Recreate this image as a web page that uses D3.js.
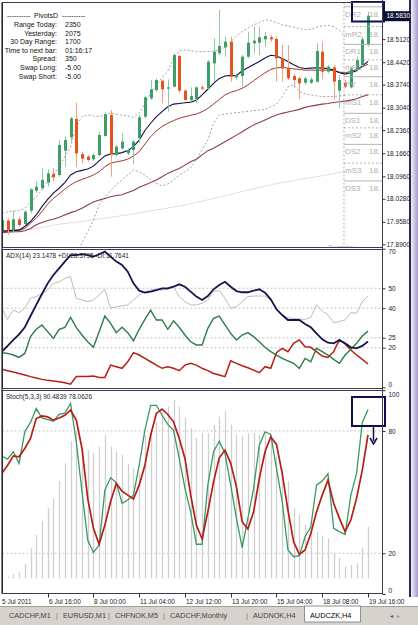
<!DOCTYPE html>
<html><head><meta charset="utf-8">
<script src="https://cdn.jsdelivr.net/npm/d3@7"></script>
<style>
body{margin:0;background:#fff;}
svg{display:block;font-family:"Liberation Sans",Arial,sans-serif;}
</style></head>
<body><svg id="c" width="418" height="625"></svg>
<script>
// ---------------- DATA ----------------
const openP  = [17.9334,17.9617,17.9334,17.9657,17.9516,17.9920,18.0526,18.0597,18.0769,18.1031,18.1001,18.1738,18.2143,18.2698,18.1637,18.1557,18.1476,18.1607,18.2183,18.2819,18.1607,18.1809,18.1658,18.1759,18.2112,18.2769,18.3325,18.3577,18.3860,18.3618,18.3678,18.4608,18.3557,18.3274,18.3294,18.3658,18.3628,18.4385,18.4689,18.4870,18.5042,18.3961,18.4001,18.4587,18.4992,18.5012,18.5113,18.5174,18.5123,18.4537,18.4234,18.4001,18.3931,18.3799,18.3799,18.3830,18.4739,18.4133,18.4264,18.3557,18.3799,18.3658,18.4183,18.4335,18.4941];
const highP  = [17.9839,17.9688,17.9920,17.9738,17.9940,18.0597,18.0799,18.1203,18.1173,18.1203,18.2062,18.2163,18.2769,18.3193,18.1708,18.1607,18.1658,18.2314,18.2890,18.2971,18.1910,18.2264,18.1809,18.2062,18.2819,18.3395,18.3880,18.3931,18.3900,18.3900,18.4689,18.4638,18.3597,18.3658,18.3678,18.3729,18.4486,18.5143,18.6002,18.5194,18.5194,18.4082,18.4638,18.5345,18.5497,18.5497,18.5345,18.5244,18.5194,18.4941,18.4941,18.4062,18.3981,18.3981,18.3961,18.4992,18.5042,18.4335,18.4335,18.4032,18.3880,18.4284,18.4587,18.5194,18.5951];
const lowP   = [17.9182,17.9182,17.9233,17.9435,17.9485,17.9839,18.0445,18.0546,18.0647,18.0799,18.0950,18.1254,18.2011,18.1254,18.1355,18.1405,18.1435,18.1557,18.2163,18.0950,18.1557,18.1759,18.1607,18.1334,18.1961,18.2718,18.3274,18.3527,18.3173,18.2921,18.3658,18.3476,18.3254,18.3224,18.3173,18.3577,18.3597,18.3830,18.4638,18.4587,18.3830,18.3880,18.3678,18.4537,18.4689,18.4638,18.4891,18.5042,18.3830,18.3830,18.3880,18.3658,18.3294,18.3729,18.3759,18.3799,18.3900,18.4082,18.3274,18.3022,18.3628,18.3628,18.4133,18.4284,18.4891];
const closeP = [17.9637,17.9334,17.9657,17.9485,17.9890,18.0567,18.0647,18.0849,18.1052,18.0930,18.1910,18.2062,18.2718,18.1658,18.1496,18.1456,18.1607,18.2213,18.2840,18.1637,18.1860,18.2011,18.1759,18.2011,18.2749,18.3355,18.3597,18.3880,18.3597,18.3658,18.4638,18.3557,18.3274,18.3395,18.3658,18.3618,18.4436,18.4739,18.4911,18.5042,18.3981,18.4032,18.4587,18.5012,18.5073,18.5174,18.5214,18.5113,18.4537,18.4234,18.3931,18.3880,18.3779,18.3931,18.3900,18.4759,18.4133,18.4284,18.3830,18.3880,18.3678,18.4234,18.4486,18.5113,18.5830];

const maFast = [17.931,17.931,17.933,17.933,17.944,17.959,17.979,18.004,18.026,18.045,18.060,18.077,18.100,18.110,18.114,18.118,18.127,18.143,18.158,18.164,18.165,18.168,18.174,18.186,18.206,18.235,18.257,18.277,18.292,18.307,18.315,18.317,18.319,18.321,18.327,18.343,18.360,18.378,18.393,18.400,18.402,18.401,18.416,18.425,18.435,18.444,18.455,18.463,18.461,18.453,18.444,18.434,18.426,18.423,18.424,18.425,18.424,18.423,18.418,18.410,18.406,18.410,18.416,18.431,18.444];
const maMid = [17.928,17.929,17.931,17.933,17.938,17.954,17.969,17.989,18.012,18.029,18.043,18.057,18.070,18.080,18.087,18.093,18.100,18.110,18.125,18.136,18.140,18.143,18.148,18.158,18.171,18.194,18.216,18.234,18.247,18.257,18.265,18.272,18.277,18.281,18.285,18.292,18.302,18.315,18.329,18.343,18.351,18.356,18.363,18.373,18.386,18.398,18.410,18.420,18.425,18.426,18.424,18.422,18.420,18.418,18.418,18.418,18.418,18.418,18.416,18.412,18.410,18.414,18.420,18.428,18.436];
const maSlow = [17.926,17.927,17.928,17.928,17.931,17.938,17.949,17.956,17.962,17.966,17.972,17.979,17.986,17.992,17.999,18.009,18.018,18.024,18.029,18.034,18.038,18.040,18.047,18.053,18.063,18.070,18.077,18.085,18.095,18.105,18.113,18.120,18.130,18.140,18.148,18.161,18.174,18.181,18.191,18.201,18.211,18.221,18.231,18.242,18.252,18.259,18.267,18.275,18.282,18.287,18.291,18.295,18.299,18.305,18.309,18.312,18.315,18.317,18.320,18.322,18.324,18.327,18.331,18.338,18.343];
const maVerySlow = [17.923,17.926,17.928,17.931,17.933,17.935,17.938,17.941,17.945,17.948,17.951,17.953,17.955,17.957,17.959,17.962,17.964,17.967,17.969,17.972,17.974,17.977,17.979,17.982,17.985,17.988,17.991,17.994,17.997,18.000,18.003,18.006,18.009,18.013,18.017,18.021,18.025,18.029,18.033,18.037,18.041,18.046,18.050,18.054,18.058,18.062,18.066,18.070,18.074,18.077,18.080,18.083,18.086,18.089,18.092,18.095,18.098,18.101,18.104,18.107,18.110];
const bandUpper = [17.984,17.988,17.991,17.992,17.999,18.019,18.034,18.055,18.080,18.100,18.125,18.156,18.186,18.247,18.277,18.282,18.279,18.277,18.282,18.287,18.285,18.281,18.279,18.275,18.287,18.317,18.348,18.373,18.396,18.416,18.454,18.477,18.479,18.477,18.474,18.474,18.474,18.476,18.479,18.487,18.504,18.521,18.535,18.545,18.555,18.562,18.570,18.568,18.562,18.555,18.552,18.548,18.544,18.540,18.542,18.548,18.552,18.554,18.550,18.538,18.519];
const bandLowerStart = 13;
const bandLower = [17.853,17.895,17.928,17.964,18.009,18.032,18.053,18.070,18.085,18.100,18.115,18.110,18.100,18.087,18.075,18.067,18.073,18.085,18.100,18.110,18.122,18.146,18.176,18.206,18.257,18.282,18.285,18.287,18.289,18.291,18.293,18.295,18.297,18.299,18.307,18.315,18.338,18.368,18.373,18.353,18.346,18.343,18.340,18.338,18.338,18.338,18.340,18.343];

const pivotNames  = ["DR2","mR2","DR1","mR1","PV","mS1","DS1","mS2","DS2","mS3","DS3"];
const pivotLevels = [18.610,18.550,18.496,18.449,18.398,18.343,18.287,18.243,18.193,18.136,18.082];
const pivotStartBar = 59.8;

const priceTicks = [18.5830,18.5120,18.4420,18.3740,18.3040,18.2360,18.1660,18.0960,18.0280,17.9580,17.8900];

const infoLabels = ["Range Today:","Yesterday:","30 Day Range:","Time to next bar:","Spread:","Swap Long:","Swap Short:"];
const infoValues = ["2350","2075","1700","01:16:17","350","-5.00","-5.00"];

const adxMain = [18.0,20.9,23.9,26.7,30.3,36.0,41.6,47.1,52.5,56.7,60.1,63.5,66.8,66.8,67.3,66.8,66.0,67.2,68.5,66.0,63.5,61.8,58.4,52.5,48.8,47.8,48.3,49.1,50.0,50.0,50.8,52.0,50.8,48.3,45.8,44.1,46.1,49.5,51.7,53.3,50.8,48.6,48.0,48.0,48.8,49.5,47.8,44.4,39.4,36.5,34.0,34.0,34.0,32.0,30.3,27.2,24.2,22.5,22.2,23.9,22.2,20.2,19.7,20.9,23.15];
const plusDI = [17.5,17.1,16.3,15.1,17.1,25.6,29.3,31.5,28.1,24.7,29.3,30.3,35.3,30.3,26.4,23.0,20.2,28.1,36.0,32.3,27.6,30.3,27.6,23.5,29.3,34.3,39.0,34.0,34.0,29.3,33.6,30.3,26.4,23.0,21.4,21.4,29.8,34.8,36.0,31.5,27.2,23.9,26.4,27.6,25.6,23.0,20.2,18.0,16.3,14.6,13.4,12.1,9.6,14.6,12.9,19.7,18.0,16.3,14.1,12.1,16.3,19.2,22.2,25.9,28.38];
const minusDI = [9.1,8.4,7.7,7.0,6.2,5.4,4.7,4.0,3.5,3.2,2.8,2.3,1.6,5.4,5.4,5.4,5.7,5.0,5.0,11.2,10.4,9.6,12.9,17.5,16.3,14.6,12.9,11.2,9.6,10.4,9.6,8.4,11.2,12.1,11.2,9.6,8.4,7.0,6.2,5.4,13.4,12.1,10.9,9.9,8.7,7.4,10.4,9.6,17.5,19.7,18.0,22.2,23.9,20.5,20.2,18.0,15.8,15.1,18.0,23.9,21.9,18.8,16.3,14.1,11.76];
const adxGray = [39.9,34.3,39.0,37.7,39.9,45.0,45.8,47.5,49.1,52.5,53.3,55.0,55.9,45.0,44.1,43.2,44.1,46.6,49.5,39.9,40.7,41.1,41.6,44.1,46.6,48.3,49.1,49.5,49.1,49.5,50.8,45.8,43.2,41.6,41.6,42.4,44.1,48.6,48.8,45.0,39.9,40.7,43.2,45.8,46.1,46.1,46.1,44.1,39.9,36.5,35.2,34.8,34.5,34.3,35.3,41.6,38.5,36.5,32.7,33.2,34.0,37.7,37.4,43.2,46.1];
const adxTicks = [70,50,40,25,20,0];
const adxGrid = [50,40,25,20];

const stochMain = [67.6,66.2,69.8,64.1,79.6,84.2,91.0,86.4,85.6,84.8,88.1,88.7,93.5,74.7,50.2,26.5,20.4,24.0,51.0,57.0,54.7,44.5,46.1,48.5,63.2,80.4,92.6,92.6,87.7,83.2,80.4,66.5,51.8,40.3,24.4,24.4,53.4,69.8,75.0,69.0,53.4,37.1,22.7,37.1,51.8,73.0,79.6,78.3,61.6,45.3,21.6,18.3,18.8,28.1,33.0,53.4,55.4,59.0,32.2,30.6,29.2,48.5,59.1,84.2,90.48];
const stochSignal = [59.2,63.2,67.8,67.3,71.4,76.3,86.1,87.4,86.9,85.3,86.4,87.7,90.2,85.3,71.4,46.9,32.2,24.4,33.8,45.3,54.2,50.5,48.5,46.6,53.4,63.2,77.9,88.6,90.7,88.1,84.5,76.3,66.5,48.5,33.8,27.0,40.3,55.0,66.8,70.6,64.1,52.6,35.5,31.9,40.3,56.7,69.8,77.1,73.4,59.2,41.2,25.6,19.4,21.6,29.7,40.3,48.5,55.9,44.5,37.1,30.6,36.3,46.9,60.8,78.06];
const stochHist = [2,0.9,2.2,3.2,7.7,16.2,23.4,31.0,38.2,43.2,52.6,62.2,74.2,79.3,69.4,69.4,67.6,71.2,77.5,71.2,68.5,66.7,61.8,59.5,56.8,77.5,79.3,84.7,90.1,92.8,96.4,92.8,86.8,81.1,75.7,78.4,78.4,82.9,87.4,90.5,83.2,77.5,76.6,78.4,78.4,77.5,78.4,77.5,65.8,59.5,52.3,37.8,34.2,28.8,27.0,25.2,23.1,21.6,13.5,10.8,6.3,7.2,8.1,16.2,27.9];
const stochTicks = [100,80,20,0];
const stochGrid = [80,20];

const timeLabels = ["5 Jul 2011","6 Jul 16:00","8 Jul 00:00","11 Jul 04:00","12 Jul 12:00","13 Jul 20:00","15 Jul 04:00","18 Jul 08:00","19 Jul 16:00"];
const timeTickBars = [0,8,16,24,32,40,48,56,64];
const tabs = ["CADCHF,M1","EURUSD,M1","CHFNOK,M5","CADCHF,Monthly","AUDNOK,H4","AUDCZK,H4"];

// ---------------- LAYOUT ----------------
const svg = d3.select("#c");
const L = 2.5, R = 382.5;
const P1 = {t:2.5, b:247.5}, P2 = {t:249.5, b:388.5}, P3 = {t:390.5, b:593.5};

const x = d3.scaleLinear().domain([0,64]).range([1.9,368]);
const yP = d3.scaleLinear().domain([17.89,18.583]).range([244.3,15.7]);
const yA = d3.scaleLinear().domain([0,70]).range([387.3,248.7]);
const yS = d3.scaleLinear().domain([0,100]).range([594,390.2]);
const yH = d3.scaleLinear().domain([0,100]).range([578.3,393.3]);

const defs = svg.append("defs");
[["c1",P1],["c2",P2],["c3",P3]].forEach(([id,p])=>{
  defs.append("clipPath").attr("id",id).append("rect").attr("x",L).attr("y",p.t).attr("width",R-L).attr("height",p.b-p.t);
});

// right side strip
svg.append("rect").attr("x",409).attr("y",0).attr("width",2).attr("height",597).attr("fill","#2c2850");
const grad = defs.append("linearGradient").attr("id","sg").attr("x1",0).attr("x2",1);
grad.append("stop").attr("offset","0").attr("stop-color","#f2f0f8");
grad.append("stop").attr("offset","1").attr("stop-color","#a898cc");
svg.append("rect").attr("x",411).attr("y",0).attr("width",7).attr("height",597).attr("fill","url(#sg)");

// ---------------- PRICE PANEL ----------------
const g1 = svg.append("g").attr("clip-path","url(#c1)");
const lineP = (start)=> d3.line().x((d,i)=>x(i+start)).y(d=>yP(d));

g1.append("path").attr("d",lineP(0)(maVerySlow)).attr("fill","none").attr("stroke","#dedede").attr("stroke-width",1);
g1.append("path").attr("d",lineP(0)(bandUpper)).attr("fill","none").attr("stroke","#8a8a8a").attr("stroke-width",0.8).attr("stroke-dasharray","2,2");
g1.append("path").attr("d",lineP(bandLowerStart)(bandLower)).attr("fill","none").attr("stroke","#8a8a8a").attr("stroke-width",0.8).attr("stroke-dasharray","2,2");
g1.append("path").attr("d",lineP(0)(maSlow)).attr("fill","none").attr("stroke","#8e3c46").attr("stroke-width",1.1);
g1.append("path").attr("d",lineP(0)(maMid)).attr("fill","none").attr("stroke","#9a3a2e").attr("stroke-width",1);
g1.append("path").attr("d",lineP(0)(maFast)).attr("fill","none").attr("stroke","#101048").attr("stroke-width",1.1);

// candles
const bull = "#3e9e68", bear = "#e4541c";
const cg = g1.append("g");
openP.forEach((o,i)=>{
  const c = closeP[i], up = c >= o;
  const cx = Math.round(x(i)) + 0.5;
  cg.append("line").attr("x1",cx).attr("x2",cx).attr("y1",yP(highP[i])).attr("y2",yP(lowP[i]))
    .attr("stroke", up ? "#8fc9a4" : "#eea27e").attr("stroke-width",1);
  const yt = yP(Math.max(o,c)), yb = yP(Math.min(o,c));
  cg.append("rect").attr("x",cx-1.5).attr("y",yt).attr("width",3).attr("height",Math.max(1,yb-yt))
    .attr("fill", up ? bull : bear);
});

// pivot area
const px = x(pivotStartBar);
g1.append("line").attr("x1",px).attr("x2",px).attr("y1",P1.t).attr("y2",P1.b).attr("stroke","#999").attr("stroke-dasharray","2,2").attr("stroke-width",0.8);
pivotLevels.forEach((lv,i)=>{
  const yy = yP(lv);
  const isD = pivotNames[i][0] !== "m";
  g1.append("line").attr("x1",px).attr("x2",R).attr("y1",yy).attr("y2",yy)
    .attr("stroke","#b4b4b4").attr("stroke-width",1).attr("stroke-dasharray", isD ? null : "2,2");
  g1.append("text").attr("x",px+1).attr("y",yy+10).attr("font-size",8).attr("fill","#b0b0b0").text(pivotNames[i]);
  g1.append("text").attr("x",px+25).attr("y",yy+10).attr("font-size",8).attr("fill","#b0b0b0").text("18.");
});
g1.append("text").attr("x",px-16).attr("y",P1.b+2).attr("font-size",7.5).attr("fill","#b8b8b8").text("Tuesday");

// info text
const info = svg.append("g").attr("font-size",7).attr("fill","#111");
info.append("text").attr("x",7).attr("y",18).text("----------");
info.append("text").attr("x",34).attr("y",18).text("PivotsD");
info.append("text").attr("x",62).attr("y",18).text("----------");
infoLabels.forEach((t,i)=>{
  info.append("text").attr("x",57).attr("y",27+i*8.6).attr("text-anchor","end").text(t);
  info.append("text").attr("x",65).attr("y",27+i*8.6).text(infoValues[i]);
});

// annotation rect top
svg.append("rect").attr("x",352).attr("y",2).attr("width",32).attr("height",19.5).attr("fill","none").attr("stroke","#0e0e4e").attr("stroke-width",2);

// ---------------- ADX PANEL ----------------
const g2 = svg.append("g").attr("clip-path","url(#c2)");
adxGrid.forEach(v=>g2.append("line").attr("x1",L).attr("x2",R).attr("y1",yA(v)).attr("y2",yA(v)).attr("stroke","#b8b8b8").attr("stroke-dasharray","2,2").attr("stroke-width",0.8));
const lineA = d3.line().x((d,i)=>x(i)).y(d=>yA(d));
g2.append("path").attr("d",lineA(adxGray)).attr("fill","none").attr("stroke","#b4b4b4").attr("stroke-width",0.9);
g2.append("path").attr("d",lineA(minusDI)).attr("fill","none").attr("stroke","#b81e16").attr("stroke-width",1.5);
g2.append("path").attr("d",lineA(plusDI)).attr("fill","none").attr("stroke","#2e7a4c").attr("stroke-width",1.4);
g2.append("path").attr("d",lineA(adxMain)).attr("fill","none").attr("stroke","#14144e").attr("stroke-width",1.8);
svg.append("text").attr("x",6).attr("y",257.5).attr("font-size",6.5).attr("fill","#1a1a2a").text("ADX(14) 23.1478 +DI:28.3795 -DI:11.7641");

// ---------------- STOCH PANEL ----------------
const g3 = svg.append("g").attr("clip-path","url(#c3)");
stochGrid.forEach(v=>g3.append("line").attr("x1",L).attr("x2",R).attr("y1",yS(v)).attr("y2",yS(v)).attr("stroke","#b8b8b8").attr("stroke-dasharray","2,2").attr("stroke-width",0.8));
stochHist.forEach((v,i)=>{
  const cx = Math.round(x(i))+0.5;
  g3.append("line").attr("x1",cx).attr("x2",cx).attr("y1",yH(0)).attr("y2",yH(v)).attr("stroke","#cfcfcf").attr("stroke-width",1.3);
});
const lineS = d3.line().x((d,i)=>x(i)).y(d=>yS(d));
g3.append("path").attr("d",lineS(stochMain)).attr("fill","none").attr("stroke","#3a9862").attr("stroke-width",1.3);
g3.append("path").attr("d",lineS(stochSignal)).attr("fill","none").attr("stroke","#b81e16").attr("stroke-width",1.7);
svg.append("text").attr("x",6).attr("y",398.8).attr("font-size",6.5).attr("fill","#1a1a2a").text("Stoch(5,3,3) 90.4839 78.0626");

// annotation rect + arrow in stoch
svg.append("rect").attr("x",352).attr("y",397).attr("width",33).attr("height",29).attr("fill","none").attr("stroke","#0e0e4e").attr("stroke-width",2);
svg.append("line").attr("x1",373.5).attr("x2",373.5).attr("y1",426).attr("y2",441).attr("stroke","#0e0e4e").attr("stroke-width",1.5);
svg.append("path").attr("d","M370,438 L373.5,444 L377,438").attr("fill","none").attr("stroke","#0e0e4e").attr("stroke-width",1.5);

// ---------------- FRAMES ----------------
[P1,P2,P3].forEach(p=>{
  svg.append("rect").attr("x",L).attr("y",p.t).attr("width",R-L).attr("height",p.b-p.t).attr("fill","none").attr("stroke","#3a3a52").attr("stroke-width",1);
});
svg.append("line").attr("x1",L-0.5).attr("x2",L-0.5).attr("y1",P1.t).attr("y2",P3.b).attr("stroke","#222").attr("stroke-width",1.2);

// ---------------- AXES ----------------
function styleAxis(g){
  g.select(".domain").remove();
  g.selectAll(".tick line").attr("stroke","#333");
  g.selectAll("text").attr("font-size",6.5).attr("fill","#1a1a2a").attr("font-family","Liberation Sans, Arial, sans-serif");
}
const axP = svg.append("g").attr("transform",`translate(${R},0)`)
  .call(d3.axisRight(yP).tickValues(priceTicks).tickSize(3).tickPadding(1).tickFormat(d3.format(".4f")));
styleAxis(axP);
axP.selectAll(".tick").filter(d=>d===priceTicks[0]).each(function(){
  const t = d3.select(this);
  t.insert("rect","text").attr("x",1).attr("y",-5).attr("width",27).attr("height",10).attr("fill","#0c0c30");
  t.select("text").attr("fill","#fff");
});

const axA = svg.append("g").attr("transform",`translate(${R},0)`)
  .call(d3.axisRight(yA).tickValues(adxTicks).tickSize(3).tickPadding(3).tickFormat(d3.format("d")));
styleAxis(axA);
axA.selectAll(".tick text").attr("dy",d=> d===70 ? "0.75em" : d===0 ? "-0.1em" : "0.32em");

const axS = svg.append("g").attr("transform",`translate(${R},0)`)
  .call(d3.axisRight(yS).tickValues(stochTicks).tickSize(3).tickPadding(3).tickFormat(d3.format("d")));
styleAxis(axS);
axS.selectAll(".tick text").attr("dy",d=> d===100 ? "0.95em" : d===0 ? "-0.3em" : "0.32em");

svg.append("line").attr("x1",R).attr("x2",R).attr("y1",0).attr("y2",P3.b).attr("stroke","#3a3a52").attr("stroke-width",1);

// time axis
const tx = svg.append("g").attr("font-size",6.5).attr("fill","#1a1a2a");
timeTickBars.forEach((b,i)=>{
  const xx = Math.round(x(b))+0.5;
  if(i>0) tx.append("line").attr("x1",xx).attr("x2",xx).attr("y1",P3.b).attr("y2",P3.b+4).attr("stroke","#333");
  tx.append("text").attr("x", i===0 ? 2 : xx+0.5).attr("y",603.5).text(timeLabels[i]);
});

// ---------------- TABS ----------------
svg.append("rect").attr("x",0).attr("y",606).attr("width",418).attr("height",19).attr("fill","#d6d3ce");
svg.append("line").attr("x1",0).attr("x2",418).attr("y1",606.5).attr("y2",606.5).attr("stroke","#a0a0a0");
svg.append("rect").attr("x",304.5).attr("y",606).attr("width",56).attr("height",16).attr("fill","#fff").attr("stroke","#909090");
const tabX = [9,63,115,170,253,310];
const tg = svg.append("g").attr("font-size",7.3).attr("fill","#333");
tabs.forEach((t,i)=>{
  tg.append("text").attr("x",tabX[i]).attr("y",617.5).attr("fill", i===5 ? "#000" : "#444").text(t);
  if(i>0 && i<5) tg.append("text").attr("x",tabX[i]-7).attr("y",617.5).attr("fill","#777").text("|");
});
tg.append("text").attr("x",390).attr("y",617.5).attr("font-size",6).attr("fill","#555").text("◂");
tg.append("text").attr("x",397).attr("y",617.5).attr("font-size",6).attr("fill","#999").text("▸");
</script></body></html>
